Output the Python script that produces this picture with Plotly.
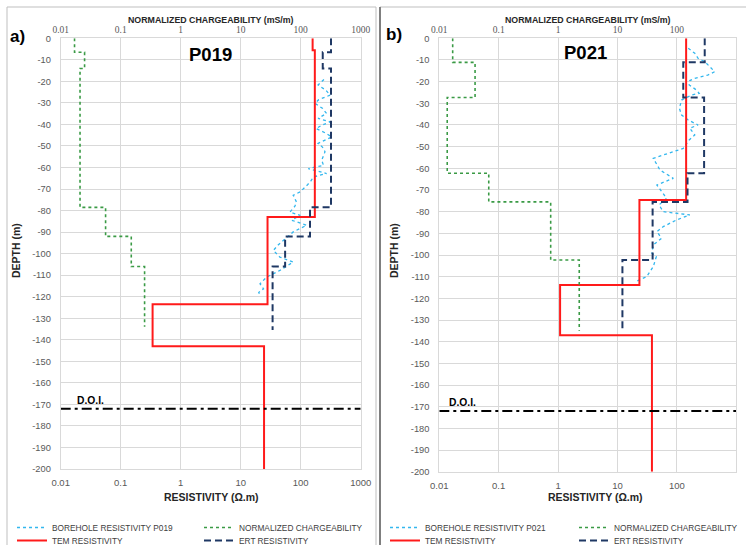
import plotly.graph_objects as go

W, H = 746, 545

# ---------------- DATA ----------------
tick_vals = [0.01, 0.1, 1, 10, 100, 1000]
tick_text = ["0.01", "0.1", "1", "10", "100", "1000"]
depth_ticks = list(range(-200, 1, 10))

# Panel a) P019
bh_a_depth = [-19.1, -21.7, -24.0, -26.4, -28.5, -30.2, -32.5, -34.9, -37.2, -38.8, -40.5, -41.9,
              -44.0, -45.8, -48.8, -50.5, -52.7, -56.6, -59.0, -60.5, -62.8, -64.4, -66.0, -68.0,
              -71.3, -72.9, -76.0, -78.0, -80.7, -82.2, -84.5, -86.8, -89.9, -93.8, -96.0, -98.5,
              -101.6, -103.9, -107.8, -110.9, -114.0, -116.3, -118.0, -119.4]
bh_a_res = [244, 195, 260, 310, 200, 173, 230, 270, 195, 310, 220, 180,
            260, 330, 195, 230, 254, 224, 240, 134, 270, 162, 150, 130,
            98, 75, 85, 80, 66, 98, 71, 126, 75, 51, 42, 35,
            45, 75, 45, 27, 21, 24, 20, 21]
tem_a_res = [158, 172, 28, 0.34, 24.5]
tem_a_bounds = [0, -5.5, -83, -123.5, -143, -200]
ert_a_res = [320, 233, 320, 143, 55, 34]
ert_a_bounds = [0, -6.5, -14, -78.5, -92, -106, -135.5]
chg_a_val = [0.017, 0.025, 0.021, 0.056, 0.15, 0.25]
chg_a_bounds = [0, -6.5, -14, -78.5, -92, -106, -134]

# Panel b) P021
bh_b_depth = [-4.6, -6.9, -9.2, -10.8, -15.4, -17.0, -18.5, -19.5, -21.5, -23.9, -25.4, -26.2,
              -28.5, -32.3, -35.4, -37.7, -40.0, -41.5, -44.6, -46.9, -50.8, -53.9, -55.4, -60.8,
              -64.6, -67.7, -70.8, -73.8, -76.9, -80.0, -81.5, -83.8, -86.9, -89.2, -92.3, -95.4,
              -99.2, -100.8, -105.4, -110.0, -112.3]
bh_b_res = [155, 200, 227, 295, 433, 330, 200, 165, 161, 214, 237, 176,
            120, 110, 120, 155, 227, 165, 200, 161, 128, 59, 40, 52,
            87, 46, 55, 67, 50, 59, 165, 99, 59, 46, 55, 40,
            38, 45, 40, 31, 20]
tem_b_res = [143, 23.4, 1.08, 38]
tem_b_bounds = [0, -74.6, -113.8, -137, -200]
ert_b_res = [294, 128, 287, 151, 39, 12.1]
ert_b_bounds = [0, -11.1, -27.3, -62.3, -75.5, -102.3, -135.4]
chg_b_val = [0.0168, 0.04, 0.0136, 0.068, 0.75, 2.27]
chg_b_bounds = [0, -11.1, -27.3, -62.3, -75.5, -102.3, -135]

doi_depth = -172
doi_x = [0.01, 1000]

# ---------------- HELPERS ----------------
def steps(vals, bounds):
    xs, ys = [], []
    for v, t, b in zip(vals, bounds[:-1], bounds[1:]):
        xs += [v, v]
        ys += [t, b]
    return xs, ys

def px(x):
    return x / W

def py(y):
    return 1 - y / H

C_BH = "#33B7EE"
C_CHG = "#3A9A45"
C_TEM = "#FF1A1A"
C_ERT = "#1F3864"

fig = go.Figure()

def add_panel(bh_d, bh_r, tem_r, tem_b, ert_r, ert_b, chg_v, chg_b, name, xb, xt, ya, lgs):
    fig.add_trace(go.Scatter(x=bh_r, y=bh_d, mode="lines", name="BOREHOLE RESISTIVITY " + name,
                             line=dict(color=C_BH, width=1.3, dash="dot"),
                             xaxis=xb, yaxis=ya, legend=lgs[0]))
    cx, cy = steps(chg_v, chg_b)
    fig.add_trace(go.Scatter(x=cx, y=cy, mode="lines", name="NORMALIZED CHARGEABILITY",
                             line=dict(color=C_CHG, width=1.6, dash="dot"),
                             xaxis=xt, yaxis=ya, legend=lgs[1]))
    tx, ty = steps(tem_r, tem_b)
    fig.add_trace(go.Scatter(x=tx, y=ty, mode="lines", name="TEM RESISTIVITY",
                             line=dict(color=C_TEM, width=2),
                             xaxis=xb, yaxis=ya, legend=lgs[2]))
    ex, ey = steps(ert_r, ert_b)
    fig.add_trace(go.Scatter(x=ex, y=ey, mode="lines", name="ERT RESISTIVITY",
                             line=dict(color=C_ERT, width=2, dash="7px,4px"),
                             xaxis=xb, yaxis=ya, legend=lgs[3]))
    fig.add_trace(go.Scatter(x=doi_x, y=[doi_depth, doi_depth], mode="lines", showlegend=False,
                             line=dict(color="black", width=2, dash="10px,4px,3px,4px"),
                             xaxis=xb, yaxis=ya, hoverinfo="skip"))

add_panel(bh_a_depth, bh_a_res, tem_a_res, tem_a_bounds, ert_a_res, ert_a_bounds,
          chg_a_val, chg_a_bounds, "P019", "x", "x2", "y",
          ["legend", "legend2", "legend3", "legend4"])
add_panel(bh_b_depth, bh_b_res, tem_b_res, tem_b_bounds, ert_b_res, ert_b_bounds,
          chg_b_val, chg_b_bounds, "P021", "x3", "x4", "y2",
          ["legend5", "legend6", "legend7", "legend8"])

GRID = "#D9D9D9"
TICKC = "#595959"
SANS = "Liberation Sans, Arial, sans-serif"

def xax(domain, anchor, top=False, overlay=None):
    d = dict(type="log", range=[-2, 3], domain=domain, anchor=anchor,
             tickmode="array", tickvals=tick_vals, ticktext=tick_text,
             showgrid=not top, gridcolor=GRID, gridwidth=1, zeroline=False,
             showline=True, linecolor=GRID, linewidth=1, ticks="", automargin=False,
             tickfont=dict(family=("Liberation Serif, serif" if top else SANS),
                           size=(9.5 if top else 9.5), color=TICKC))
    if top:
        d.update(side="top", overlaying=overlay, ticklabelstandoff=1)
    else:
        d.update(ticklabelstandoff=5)
    return d

def yax(domain, anchor):
    return dict(range=[-200, 0], domain=domain, anchor=anchor,
                tickmode="array", tickvals=depth_ticks, ticktext=[str(v) for v in depth_ticks],
                showgrid=True, gridcolor=GRID, gridwidth=1, zeroline=False,
                showline=True, linecolor=GRID, mirror=True, ticks="", automargin=False,
                ticklabelstandoff=7,
                tickfont=dict(family=SANS, size=9.3, color=TICKC))

dom_a = [px(60.7), px(360.7)]
dom_b = [px(439.3), px(736.3)]

legend_common = dict(orientation="h", bgcolor="rgba(0,0,0,0)", borderwidth=0,
                     font=dict(family=SANS, size=8.3, color="#404040"),
                     itemwidth=30, xanchor="left", yanchor="middle", tracegroupgap=0)

def lg(x, y):
    return dict(legend_common, x=px(x), y=py(y))

row1, row2 = 527.5, 540.5
fig.update_layout(
    width=W, height=H, margin=dict(l=0, r=0, t=0, b=0, autoexpand=False),
    paper_bgcolor="white", plot_bgcolor="white",
    xaxis=xax(dom_a, "y"),
    xaxis2=xax(dom_a, "y", top=True, overlay="x"),
    xaxis3=xax(dom_b, "y2"),
    xaxis4=xax(dom_b, "y2", top=True, overlay="x3"),
    yaxis=yax([py(469), py(38.3)], "x"),
    yaxis2=yax([py(471.7), py(38.3)], "x3"),
    legend=lg(12, row1),
    legend2=lg(199, row1),
    legend3=lg(12, row2),
    legend4=lg(199, row2),
    legend5=lg(385, row1),
    legend6=lg(574, row1),
    legend7=lg(385, row2),
    legend8=lg(574, row2),
    showlegend=True,
)

def ann(text, x, y, size, family=SANS, color="black", angle=0, xanchor="center"):
    fig.add_annotation(text=text, x=px(x), y=py(y), xref="paper", yref="paper",
                       showarrow=False, font=dict(family=family, size=size, color=color),
                       textangle=angle, xanchor=xanchor, yanchor="middle")

for cx, dx, rx in [(210.7, 16, 211), (587.8, 394, 595)]:
    ann("<b>NORMALIZED CHARGEABILITY (mS/m)</b>", cx, 20.5, 8.8, color="#262626")
    ann("<b>RESISTIVITY (Ω.m)</b>", rx, 497, 10.5, color="#262626")
    ann("<b>DEPTH (m)</b>", dx, 251, 10.5, color="#262626", angle=-90)
ann("<b>a)</b>", 17, 36, 17)
ann("<b>b)</b>", 394, 34, 17)
ann("<b>P019</b>", 210, 54, 18.5)
ann("<b>P021</b>", 585, 52, 18.5)
ann("<b>D.O.I.</b>", 90.5, 400, 10.3)
ann("<b>D.O.I.</b>", 462, 402.5, 10.3)

# panel frames
fig.add_shape(type="rect", xref="paper", yref="paper", x0=px(7), x1=px(376), y0=py(550), y1=py(7),
              line=dict(color="#BFBFBF", width=1), layer="below")
fig.add_shape(type="line", xref="paper", yref="paper", x0=px(380), x1=px(746), y0=py(7), y1=py(7),
              line=dict(color="#BFBFBF", width=1), layer="below")
fig.add_shape(type="line", xref="paper", yref="paper", x0=px(380), x1=px(380), y0=py(550), y1=py(7),
              line=dict(color="#7F7F7F", width=2), layer="below")

fig.write_html("out.html")
